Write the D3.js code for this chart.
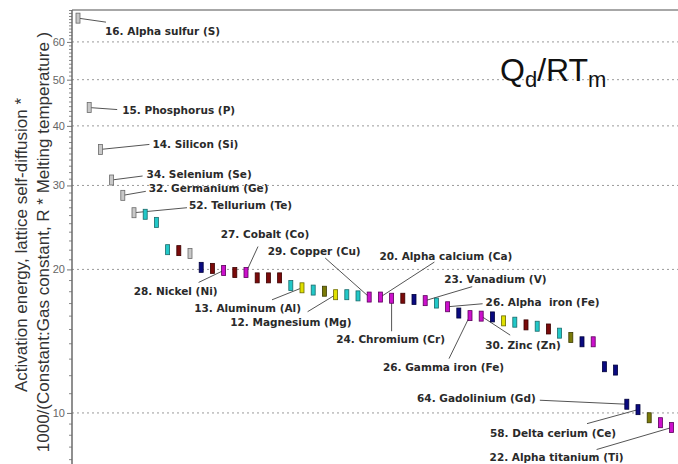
<!DOCTYPE html>
<html><head><meta charset="utf-8">
<script src="https://cdn.jsdelivr.net/npm/d3@7"></script>
<style>body{margin:0;background:#fff}svg{display:block}</style>
</head><body><svg id="c" width="678" height="464"></svg>
<script>
// ---- data (elements ordered by decreasing Qd/RTm) ----
const labels = [
  "16. Alpha sulfur (S)", "15. Phosphorus (P)", "14. Silicon (Si)", "34. Selenium (Se)", "32. Germanium (Ge)",
  "52. Tellurium (Te)", "", "", "", "", "", "", "", "28. Nickel (Ni)", "", "27. Cobalt (Co)", "", "", "", "",
  "13. Aluminum (Al)", "", "", "12. Magnesium (Mg)", "", "", "29. Copper (Cu)", "20. Alpha calcium (Ca)",
  "24. Chromium (Cr)", "", "", "23. Vanadium (V)", "", "26. Alpha  iron (Fe)", "", "26. Gamma iron (Fe)",
  "30. Zinc (Zn)", "", "", "", "", "", "", "", "", "", "", "", "", "64. Gadolinium (Gd)", "58. Delta cerium (Ce)",
  "", "", "22. Alpha titanium (Ti)"
];
const qdRtm = [
  67.3, 43.7, 35.7, 30.8, 28.6, 26.3, 26.1, 25.1, 22.0, 21.9,
  21.6, 20.2, 20.1, 19.9, 19.7, 19.7, 19.2, 19.2, 19.2, 18.5,
  18.3, 18.1, 18.0, 17.7, 17.7, 17.6, 17.5, 17.5, 17.4, 17.4,
  17.3, 17.2, 17.0, 16.7, 16.2, 16.0, 15.96, 15.9, 15.6, 15.5,
  15.3, 15.2, 15.0, 14.7, 14.4, 14.1, 14.1, 12.5, 12.3, 10.43,
  10.16, 9.77, 9.54, 9.32
];
const groups = [
  "G","G","G","G","G","G","C","C","C","R",
  "G","N","R","M","R","M","R","R","R","C",
  "Y","C","O","Y","C","C","M","M","M","R",
  "N","M","C","M","N","M","M","N","Y","C",
  "R","C","R","C","O","N","M","N","N","N",
  "N","O","M","M"
];
const majorTicks = [10, 20, 30, 40, 50, 60];
const yTitle = ["Activation energy, lattice self-diffusion *",
                "1000/(Constant:Gas constant, R * Melting temperature )"];

// ---- styles ----
const fillC = {G:"#c8c8c8", C:"#22c8c8", R:"#7a0a0a", N:"#0a0a80", M:"#cc10cc", Y:"#e0e000", O:"#7a7a08"};
const strokeC = {G:"#6a6a6a", C:"#1a6a6a", R:"#3a0000", N:"#00003a", M:"#5a005a", Y:"#6a6a00", O:"#3a3a00"};

const svg = d3.select("#c");
const W = 678, H = 464;
const plotLeft = 72, plotTop = 10;

const idx = d3.range(qdRtm.length);
const x = d3.scalePoint().domain(idx).range([78, 671.6]);
const y = d3.scaleLog().domain([7, 70]).range([486.8, plotTop]);

// gridlines
svg.append("g").selectAll("line").data(majorTicks).join("line")
  .attr("x1", plotLeft).attr("x2", W).attr("y1", d => y(d)).attr("y2", d => y(d))
  .attr("stroke", "#9a9a9a").attr("stroke-width", 1).attr("stroke-dasharray", "2,3");

// axis
const minor = d3.range(7, 70.5, 1).concat([7.5, 8.5, 9.5]).filter(v => !majorTicks.includes(v));
const axis = d3.axisLeft(y).tickValues(majorTicks).tickFormat(d3.format("d")).tickSize(5).tickPadding(2);
const gAxis = svg.append("g").attr("transform", `translate(${plotLeft},0)`).call(axis);
gAxis.select(".domain").remove();
gAxis.selectAll("line").attr("stroke", "#777");
gAxis.selectAll("text").attr("fill", "#666").attr("font-family", "Liberation Sans, Arial, sans-serif").attr("font-size", 11);
const axisMinor = d3.axisLeft(y).tickValues(minor).tickFormat("").tickSize(3);
const gMinor = svg.append("g").attr("transform", `translate(${plotLeft},0)`).call(axisMinor);
gMinor.select(".domain").remove();
gMinor.selectAll("line").attr("stroke", "#888");

// frame
svg.append("line").attr("x1", plotLeft).attr("x2", W).attr("y1", plotTop).attr("y2", plotTop)
  .attr("stroke", "#8a8a8a").attr("stroke-width", 1.5);
svg.append("line").attr("x1", plotLeft).attr("x2", plotLeft).attr("y1", plotTop).attr("y2", H)
  .attr("stroke", "#6a6a6a").attr("stroke-width", 1.5);

// y title
const tg = svg.append("g").attr("font-family", "Liberation Sans, Arial, sans-serif").attr("font-size", 17).attr("fill", "#333");
tg.append("text").attr("transform", "translate(27,245) rotate(-90)").attr("text-anchor", "middle").text(yTitle[0]);
tg.append("text").attr("transform", "translate(49,242) rotate(-90)").attr("text-anchor", "middle").text(yTitle[1]);

// leader layout: index -> [line dx, line dy, text dx, text baseline dy, anchor]
const layout = {
  0:[28,4,27,17,"start"], 1:[28,2,33,6,"start"], 2:[49,-5,52,-1,"start"], 3:[31,-4,35,-2,"start"],
  4:[23,-4,26,-3,"start"], 5:[53,-5,55,-4,"start"], 13:[-25,12,-6,25,"end"], 15:[12,-26,19,-35,"middle"],
  20:[-30,12,-1,24,"end"], 23:[-28,17,16,31,"end"], 26:[-44,-39,-55,-42,"middle"], 27:[54,-35,-1,-37,"start"],
  28:[0,33,-1,45,"middle"], 31:[47,-14,19,-18,"start"], 33:[35,-3,38,-1,"start"], 35:[-21,43,-87,55,"start"],
  36:[29,19,4,33,"start"], 49:[-87,-4,-91,-2,"end"], 50:[-51,14,-148,27,"start"], 53:[-75,22,-182,33,"start"]
};

const ann = svg.append("g");
idx.filter(i => labels[i] !== "").forEach(i => {
  const L = layout[i];
  const bx = x(i), by = y(qdRtm[i]);
  ann.append("line").attr("x1", bx).attr("y1", by).attr("x2", bx + L[0]).attr("y2", by + L[1])
    .attr("stroke", "#555").attr("stroke-width", 1);
  ann.append("text").attr("x", bx + L[2]).attr("y", by + L[3]).attr("text-anchor", L[4])
    .attr("font-family", "DejaVu Sans, Verdana, sans-serif").attr("font-weight", "bold")
    .attr("font-size", 10.5).attr("fill", "#2a2a2a").style("white-space", "pre").text(labels[i]);
});

// bars
svg.append("g").selectAll("rect").data(idx).join("rect")
  .attr("x", i => x(i) - 2).attr("y", i => y(qdRtm[i]) - 5)
  .attr("width", 4).attr("height", 10)
  .attr("fill", i => fillC[groups[i]]).attr("stroke", i => strokeC[groups[i]]).attr("stroke-width", 0.8);

// Qd/RTm annotation
const q = svg.append("text").attr("x", 500).attr("y", 81)
  .attr("font-family", "Liberation Sans, Arial, sans-serif").attr("font-size", 32).attr("fill", "#111");
q.append("tspan").text("Q");
q.append("tspan").attr("font-size", 22).attr("dy", 6).text("d");
q.append("tspan").attr("dy", -6).text("/RT");
q.append("tspan").attr("font-size", 22).attr("dy", 6).text("m");
</script></body></html>
